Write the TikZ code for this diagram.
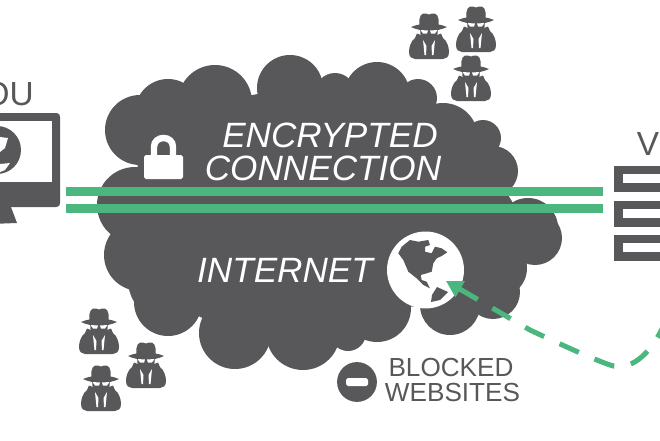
\documentclass[tikz,border=0pt]{standalone}
\usepackage{fontspec}
\setmainfont{Liberation Sans}
\usetikzlibrary{arrows.meta}
\definecolor{ink}{HTML}{58585A}
\definecolor{vpngreen}{HTML}{4CB67F}
\tikzset{
  bigitalic/.style={text=white,inner sep=0pt,font=\fontsize{30}{32}\selectfont\itshape},
  label/.style={text=ink,inner sep=0pt,font=\fontsize{22.3}{24}\selectfont},
  endlabel/.style={text=ink,inner sep=0pt,font=\fontsize{28.5}{30}\selectfont},
  band/.style={draw=vpngreen,line width=7.7pt},
  spy/.pic={
    \fill[ink] (-9.5,12) .. controls (-10.5,3) and (-7.5,-0.5) .. (-3,0.5) -- (0,1.5) -- (3,0.5) .. controls (7.5,-0.5) and (10.5,3) .. (9.5,12) -- cycle;
    \fill[ink] (-18,14) .. controls (-8,9.5) and (8,9.5) .. (18,14) .. controls (8,19) and (-8,19) .. (-18,14) -- cycle;
    \fill[ink] (-9,15) -- (9,15) -- (8,27) -- (-8,27) -- cycle;
    \fill[white] (-8.5,17) -- (-1,17.5) -- (-2,20.5) -- (-6,20.5) -- cycle;
    \fill[white] (8.5,17) -- (1,17.5) -- (2,20.5) -- (6,20.5) -- cycle;
    \fill[ink] (-12,20.5) -- (-8,22) -- (0,24) -- (8,22) -- (12,20.5) -- (14,25) .. controls (18,28) and (20,34) .. (20,39) .. controls (20,44) and (17,46) .. (14,46) -- (-14,46) .. controls (-17,46) and (-20,44) .. (-20,39) .. controls (-20,34) and (-18,28) .. (-14,25) -- cycle;
    \fill[white] (-6,27) -- (-2.5,33) -- (-3,42) -- (-4.5,42) -- cycle;
    \fill[white] (6,27) -- (2.5,33) -- (3,42) -- (4.5,42) -- cycle;
  }
}
\begin{document}
\begin{tikzpicture}[x=0.03cm,y=-0.03cm]
\useasboundingbox (0,0) rectangle (660,440);
\clip (0,0) rectangle (660,440);
\fill[white] (0,0) rectangle (660,440);
% cloud
\foreach \cx/\cy/\r in {140/130/35,168/112/33,215/102/37,290/88/33,335/93/20,377/95/33,418/98/19,443/138/35,483/138/18,493/171/25,528/228/30,535/238/27,497/268/30,493/292/27,450/305/30,377/308/34,348/333/18,303/333/37,235/333/36,168/302/34,170/280/42,140/255/36,135/205/38}
  \fill[ink] (\cx,\cy) circle[radius=\r];
\fill[ink] (140,130) -- (215,102) -- (290,88) -- (377,95) -- (418,98) -- (443,138) -- (483,138) -- (493,171) -- (535,238) -- (493,292) -- (450,305) -- (377,308) -- (303,333) -- (235,333) -- (168,302) -- (140,255) -- (135,205) -- cycle;
% lock
\fill[white,rounded corners=1.5pt] (144,155) rectangle (183,179);
\draw[white,line width=5.5pt] (154,156) -- (154,147) .. controls (154,135) and (173,135) .. (173,147) -- (173,156);
% cloud text
\node[bigitalic] (enc) at (330,135) {ENCRYPTED};
\node[bigitalic] (con) at (323,168) {CONNECTION};
\node[bigitalic] (inet) at (285,270) {INTERNET};
% globe
\node[circle,fill=white,minimum size=65.7pt,inner sep=0pt] (globe) at (425.5,270) {};
\fill[ink] (398.3,253.3) -- (401.7,246.7) -- (410,240) -- (418.3,241.7) -- (428.3,240) -- (430,245) -- (425,246.7) -- (425,251.7) -- (431.7,253.3) -- (435,246.7) -- (441.7,248.3) -- (447.3,252.3) -- (441.7,256) -- (436.7,258.3) -- (433.3,263.3) -- (431.7,271.7) -- (426.7,273.3) -- (420.7,275) -- (421.7,280) -- (426.7,281.7) -- (430,288.3) -- (423.3,285) -- (416.7,278.3) -- (408.3,271.7) -- (403.3,260) -- cycle;
\fill[ink] (437,287) -- (448,292) -- (440,300) -- (431,302) -- (432,295) -- cycle;
% monitor
\fill[ink,rounded corners=3pt] (-10,113) rectangle (60,207);
\fill[white] (-10,121) rectangle (52,182);
\fill[ink] (-10,207) -- (11,207) -- (17,223) -- (-10,224) -- cycle;
\fill[ink] (-3,150) circle[radius=24];
\fill[white] (0,137) -- (8,138) -- (5,148) -- (0,152) -- cycle;
\fill[white] (0,164) -- (10,163) -- (5,170) -- (0,172) -- cycle;
\node[endlabel,anchor=east] (you) at (34,94) {OU};
% server
\foreach \a in {166,201,235}{
  \fill[ink] (614,\a) rectangle (670,\a+26);
  \fill[white] (623,\a+8) rectangle (670,\a+17);
}
\node[endlabel] (vpn) at (648,144) {V};
% bands
\coordinate (b1l) at (66,191.5); \coordinate (b1r) at (603,191.5);
\coordinate (b2l) at (66,208.5); \coordinate (b2r) at (603,208.5);
\draw[band] (b1l) -- (b1r);
\draw[band] (b2l) -- (b2r);
% arrow
\coordinate (tip) at (446,281);
\coordinate (free) at (664,325);
\draw[vpngreen,line width=4.3pt,dash pattern=on 18pt off 14.5pt,dash phase=6pt,-{Triangle[length=14pt,width=15pt]}]
  (free) .. controls (650,355) and (630,372) .. (610,365) .. controls (590,358) and (560,344) .. (530,330) -- (tip);
% spies
\foreach \sx/\sy in {429/13,476/6,471/55,99/308,146/342,101/365}
  \pic at (\sx,\sy) {spy};
% blocked
\node[circle,fill=ink,minimum size=34pt,inner sep=0pt] (minus) at (357,382) {};
\fill[white,rounded corners=1.5pt] (346,378) rectangle (368,386);
\node[label] (bl) at (451,368) {BLOCKED};
\node[label] (web) at (452.5,393) {WEBSITES};
\end{tikzpicture}
\end{document}
